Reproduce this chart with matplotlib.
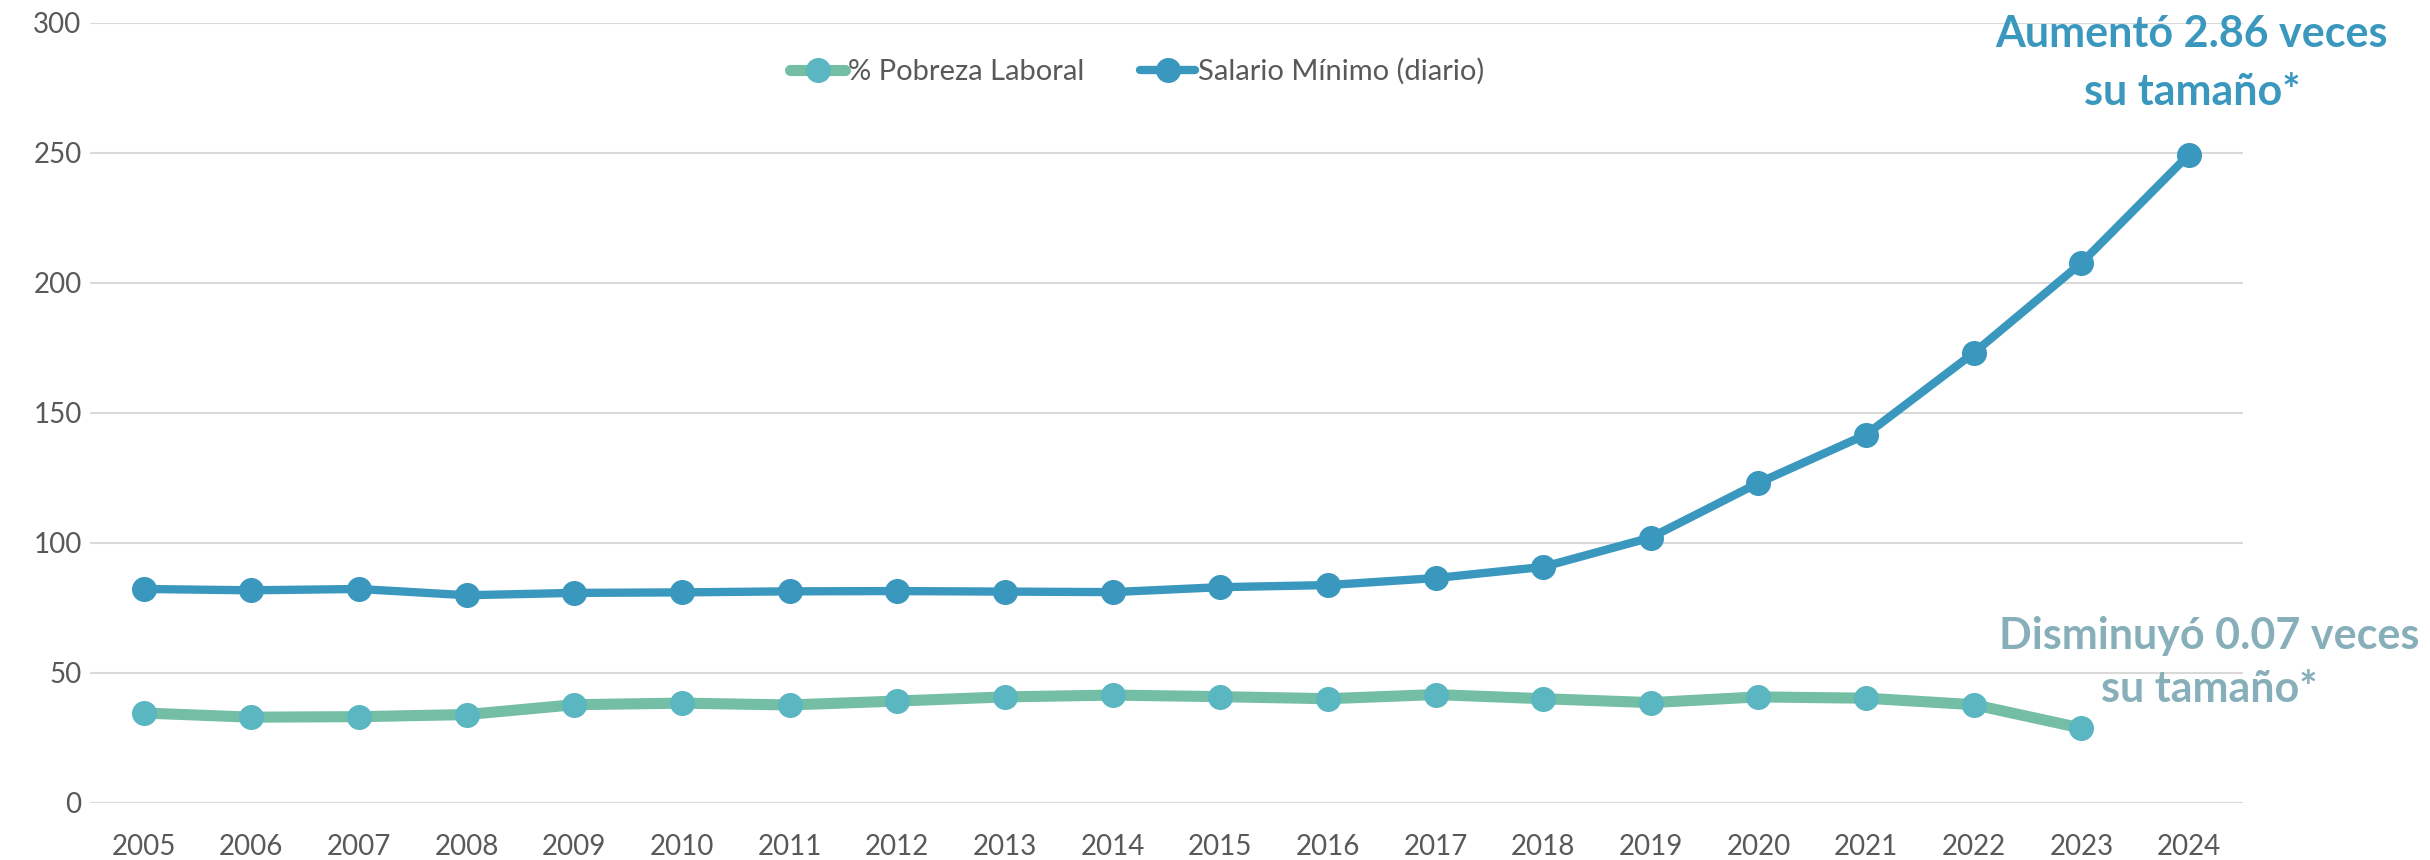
import matplotlib
matplotlib.use("Agg")
import matplotlib.pyplot as plt

years = [str(y) for y in range(2005, 2025)]
salario = [82.3, 81.8, 82.3, 79.9, 80.8, 81.0, 81.4, 81.5, 81.3, 81.1, 83.0, 83.8,
           86.5, 90.8, 102.1, 123.1, 141.7, 173.1, 207.7, 249.4]
pobreza_years = years[:19]
pobreza = [34.6, 33.0, 33.2, 34.0, 37.8, 38.4, 37.7, 39.2, 40.8, 41.5, 40.9, 40.1,
           41.7, 40.1, 38.6, 40.8, 40.3, 37.8, 28.8]
yticks = [0, 50, 100, 150, 200, 250, 300]

plt.rcParams['font.family'] = ['Lato', 'DejaVu Sans']

fig = plt.figure(figsize=(24.3, 8.6), dpi=100)
ax = fig.add_axes([0.037, 0.0663, 0.886, 0.907])

x_s = range(len(years))
x_p = range(len(pobreza_years))

ax.plot(x_p, pobreza, color='#75BEA6', lw=8.0, marker='o', ms=17,
        mfc='#5AB6C0', mec='#5AB6C0', label='% Pobreza Laboral', zorder=3,
        solid_capstyle='round')
ax.plot(x_s, salario, color='#3A97BE', lw=6.0, marker='o', ms=17,
        mfc='#3A97BE', mec='#3A97BE', label='Salario Mínimo (diario)', zorder=4,
        solid_capstyle='round')

ax.set_xlim(-0.5, len(years) - 0.5)
ax.set_ylim(0, 300)
ax.set_yticks(yticks)
ax.set_xticks(list(x_s))
ax.set_xticklabels(years)
ax.grid(axis='y', color='#D9D9D9', lw=1.5)
ax.set_axisbelow(True)
for s in ax.spines.values():
    s.set_visible(False)
ax.tick_params(axis='both', length=0, labelsize=20, labelcolor='#595959')
ax.tick_params(axis='y', pad=6)
ax.tick_params(axis='x', pad=22)

leg = ax.legend(loc='center', bbox_to_anchor=(0.468, 0.917), bbox_transform=fig.transFigure,
                ncol=2, frameon=False, fontsize=21, handlelength=1.9,
                columnspacing=1.9, handletextpad=0.1, labelcolor='#595959')

fig.text(0.902, 0.960, 'Aumentó 2.86 veces', ha='center', va='center',
         fontsize=31, fontweight='bold', color='#3A97BE')
fig.text(0.902, 0.893, 'su tamaño*', ha='center', va='center',
         fontsize=31, fontweight='bold', color='#3A97BE')
fig.text(0.909, 0.261, 'Disminuyó 0.07 veces', ha='center', va='center',
         fontsize=31, fontweight='bold', color='#86AFB9')
fig.text(0.909, 0.199, 'su tamaño*', ha='center', va='center',
         fontsize=31, fontweight='bold', color='#86AFB9')

fig.savefig('out.png', dpi=100)
